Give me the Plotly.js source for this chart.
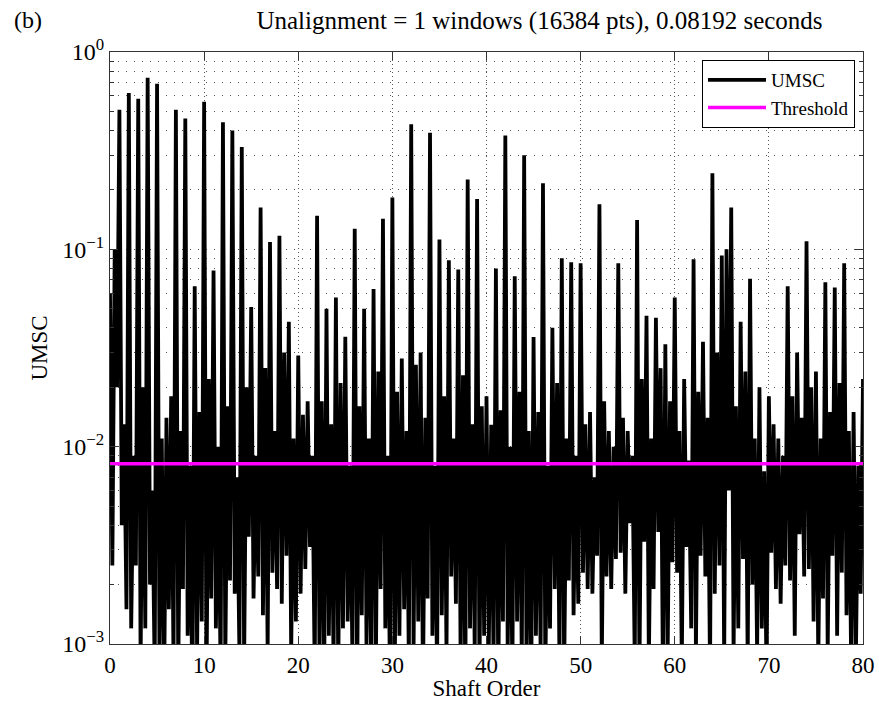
<!DOCTYPE html>
<html><head><meta charset="utf-8">
<script src="https://cdn.plot.ly/plotly-3.0.1.min.js"></script>
<style>html,body{margin:0;padding:0;background:#fff;} #chart{width:879px;height:701px;}</style>
</head><body><div id="chart"></div>
<script>
// Shaft orders of the harmonic peaks
const harmonicOrder = [0,1,2,3,4,5,6,7,8,9,10,11,12,13,14,15,16,17,18,19,20,21,22,23,24,25,26,27,28,29,30,31,32,33,34,35,36,37,38,39,40,41,42,43,44,45,46,47,48,49,50,51,52,53,54,55,56,57,58,59,60,61,62,63,64,65,66,67,68,69,70,71,72,73,74,75,76,77,78,79,80];
// UMSC value at each harmonic
const peakUMSC = [0.06,0.51,0.62,0.58,0.74,0.69,0.014,0.51,0.46,0.065,0.56,0.078,0.44,0.40,0.33,0.051,0.163,0.109,0.117,0.043,0.029,0.017,0.148,0.05,0.057,0.036,0.127,0.05,0.063,0.143,0.183,0.028,0.43,0.03,0.39,0.112,0.088,0.079,0.226,0.18,0.018,0.08,0.377,0.073,0.30,0.036,0.216,0.04,0.09,0.086,0.085,0.015,0.169,0.012,0.085,0.012,0.141,0.046,0.045,0.033,0.057,0.022,0.089,0.034,0.243,0.093,0.163,0.043,0.071,0.02,0.018,0.011,0.065,0.03,0.11,0.024,0.068,0.064,0.085,0.015,0.022];
// UMSC values between harmonics (quarter, half and three-quarter order after each harmonic)
const troughAfterPeak = [0.0025,0.004,0.0012,0.0008,0.002,0.0009,0.0015,0.0007,0.0011,0.0009,0.0006,0.0012,0.0008,0.0018,0.0008,0.0017,0.0014,0.0023,0.0016,0.0009,0.0018,0.0031,0.0009,0.0011,0.0007,0.0013,0.0006,0.001,0.0008,0.0012,0.0007,0.0015,0.0009,0.0006,0.0011,0.0014,0.0022,0.0008,0.0012,0.0007,0.001,0.0006,0.0009,0.0013,0.0008,0.0011,0.0007,0.0019,0.0007,0.0014,0.0023,0.0018,0.0008,0.0019,0.0029,0.0041,0.0007,0.0008,0.0037,0.0009,0.0023,0.0031,0.0009,0.0022,0.0018,0.0008,0.0009,0.0027,0.002,0.0012,0.0029,0.0016,0.0021,0.0036,0.0024,0.0008,0.0009,0.0011,0.0014,0.0009];
const midUMSC = [0.1,0.013,0.009,0.02,0.006,0.011,0.018,0.012,0.008,0.015,0.022,0.01,0.016,0.007,0.02,0.009,0.025,0.012,0.03,0.011,0.0145,0.009,0.017,0.013,0.021,0.008,0.016,0.011,0.024,0.009,0.019,0.012,0.026,0.014,0.008,0.018,0.011,0.023,0.013,0.016,0.0129,0.0153,0.01,0.019,0.012,0.015,0.008,0.021,0.011,0.009,0.013,0.007,0.017,0.01,0.014,0.009,0.022,0.011,0.025,0.017,0.012,0.0085,0.019,0.014,0.03,0.1,0.016,0.024,0.011,0.0075,0.013,0.009,0.018,0.014,0.02,0.011,0.015,0.021,0.012,0.008];
const troughBeforePeak = [0.02,0.0015,0.0025,0.0012,0.0007,0.0006,0.0008,0.0019,0.0005,0.0013,0.0017,0.0007,0.0021,0.0009,0.0035,0.0022,0.0009,0.0019,0.0028,0.0013,0.0024,0.0007,0.0006,0.0008,0.0012,0.0009,0.0014,0.0007,0.0019,0.0006,0.0011,0.0008,0.0013,0.0017,0.0007,0.0009,0.0016,0.0006,0.0009,0.0011,0.0008,0.0013,0.0007,0.0008,0.0006,0.0009,0.0012,0.0008,0.0021,0.0016,0.0019,0.0028,0.0022,0.0027,0.0018,0.0008,0.0033,0.0019,0.0006,0.0026,0.0008,0.0012,0.0028,0.0007,0.0025,0.006,0.0012,0.0008,0.0009,0.0007,0.0019,0.0025,0.0011,0.0022,0.0013,0.0017,0.0028,0.0023,0.0007,0.0018];
const sampleOffsets = [0.25, 0.5, 0.75];
const thresholdValue = 0.0082;
const xRange = [0, 80];
const xTickVals = [0,10,20,30,40,50,60,70,80];
const yTickVals = [0.001,0.01,0.1,1];
const yTickText = ['10<sup>−3</sup>','10<sup>−2</sup>','10<sup>−1</sup>','10<sup>0</sup>'];
const yMinorVals = [0.002,0.003,0.004,0.005,0.006,0.007,0.008,0.009,0.02,0.03,0.04,0.05,0.06,0.07,0.08,0.09,0.2,0.3,0.4,0.5,0.6,0.7,0.8,0.9];

const ux = [], uy = [];
for (let k = 0; k < harmonicOrder.length - 1; k++) {
  const h = harmonicOrder[k];
  ux.push(h); uy.push(peakUMSC[k]);
  ux.push(h + sampleOffsets[0]); uy.push(troughAfterPeak[k]);
  ux.push(h + sampleOffsets[1]); uy.push(midUMSC[k]);
  ux.push(h + sampleOffsets[2]); uy.push(troughBeforePeak[k]);
}
const last = harmonicOrder.length - 1;
ux.push(harmonicOrder[last]); uy.push(peakUMSC[last]);

const FONT = 'Liberation Serif, Times New Roman, serif';
const traces = [
  {x: ux, y: uy, type: 'scatter', mode: 'lines', name: 'UMSC',
   line: {color: '#000000', width: 3.8}},
  {x: xRange, y: [thresholdValue, thresholdValue], type: 'scatter', mode: 'lines', name: 'Threshold',
   line: {color: '#ff00ff', width: 3.5}}
];
const layout = {
  width: 879, height: 701,
  margin: {l: 110, r: 16, t: 52, b: 57},
  paper_bgcolor: '#ffffff', plot_bgcolor: '#ffffff',
  font: {family: FONT, color: '#000', size: 22},
  title: {text: 'Unalignment = 1 windows (16384 pts), 0.08192 seconds',
          font: {family: FONT, size: 25, color: '#000'},
          xref: 'paper', x: 0.5704, xanchor: 'center',
          yref: 'container', y: 0.971, yanchor: 'middle'},
  showlegend: true,
  legend: {x: 0.9894, xanchor: 'right', y: 0.9865, yanchor: 'top',
           bgcolor: '#ffffff', bordercolor: '#000000', borderwidth: 1, itemwidth: 58,
           font: {family: FONT, size: 19, color: '#000'}, tracegroupgap: 0},
  xaxis: {range: xRange, tickmode: 'array', tickvals: xTickVals,
          ticks: 'inside', ticklen: 8, tickcolor: '#333', showline: true, linecolor: '#333', linewidth: 1,
          mirror: 'ticks', showgrid: true, gridcolor: '#555', gridwidth: 1, griddash: '1px,3px',
          zeroline: false, tickfont: {family: FONT, size: 23},
          title: {text: 'Shaft Order', font: {family: FONT, size: 23}, standoff: 0}},
  yaxis: {type: 'log', range: [-3, 0], tickmode: 'array', tickvals: yTickVals, ticktext: yTickText,
          ticks: 'inside', ticklen: 8, tickcolor: '#333', showline: true, linecolor: '#333', linewidth: 1,
          mirror: 'ticks', showgrid: true, gridcolor: '#555', gridwidth: 1, griddash: '1px,7px',
          zeroline: false, tickfont: {family: FONT, size: 24},
          minor: {tickmode: 'array', tickvals: yMinorVals, ticks: 'inside', ticklen: 4, tickcolor: '#333',
                  showgrid: true, gridcolor: '#555', gridwidth: 1, griddash: '1px,7px'},
          title: {text: 'UMSC', font: {family: FONT, size: 23}, standoff: 8}},
  annotations: [{text: '(b)', xref: 'paper', yref: 'paper', x: -0.109, y: 1.054,
                 xanchor: 'center', yanchor: 'middle', showarrow: false,
                 font: {family: FONT, size: 24, color: '#000'}}]
};
Plotly.newPlot('chart', traces, layout, {displayModeBar: false, staticPlot: true});
</script>
</body></html>
